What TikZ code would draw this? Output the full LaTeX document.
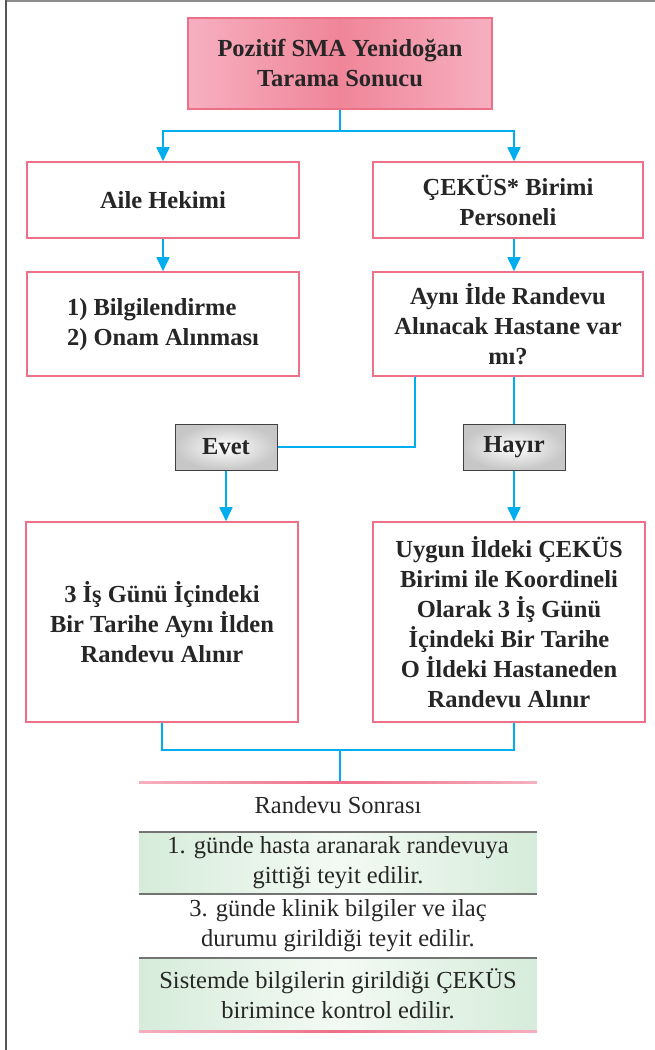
\documentclass[tikz,border=0pt]{standalone}
\usepackage{fontspec}
\setmainfont{Liberation Serif}
\newfontfamily\tnr{Liberation Serif}
\usetikzlibrary{arrows.meta}

\definecolor{pinkline}{HTML}{EE6F88}
\definecolor{pinklight}{HTML}{F6B0C0}
\definecolor{pinkdark}{HTML}{F08599}
\definecolor{cyanline}{HTML}{00AEEF}
\definecolor{greenedge}{HTML}{D6ECDA}
\definecolor{greenmid}{HTML}{F3FAF4}
\definecolor{framegray}{HTML}{555555}

\tikzset{
  txt/.style={font=\tnr\bfseries\fontsize{24.5}{30}\selectfont, align=center, text=black!85},
  pbox/.style={txt, draw=pinkline, line width=1.6pt, fill=white, inner sep=0pt},
  gbox/.style={txt, draw=black!75, line width=1pt, inner color=white, outer color=black!22,
    minimum width=102pt, minimum height=46pt, inner sep=0pt},
  band/.style={font=\tnr\fontsize{24.5}{30}\selectfont, align=center, text=black!85,
    minimum width=398pt, inner sep=0pt},
  conn/.style={draw=cyanline, line width=1.8pt},
  arr/.style={conn, -{Triangle[width=13pt,length=14pt]}},
  sep/.style={draw=black!55, line width=1.6pt}
}

\begin{document}
\begin{tikzpicture}[x=1pt, y=-1pt]
  \useasboundingbox (0,0) rectangle (655,1050);
  \draw[black!45, line width=1.5pt] (6,1) -- (655,1); % top frame
  \draw[framegray, line width=1.8pt] (6,0) -- (6,1050); % left frame

  % top box
  \node[txt, draw=pinkline, line width=1.6pt, left color=pinklight, right color=pinklight,
    middle color=pinkdark, minimum width=304pt, minimum height=91pt, inner sep=0pt]
    (sonuc) at (340,63.5) {Pozitif SMA Yenidoğan\\Tarama Sonucu};

  % two columns
  \node[pbox, minimum width=272pt, minimum height=76pt] (aile) at (163,200) {Aile Hekimi};
  \node[pbox, minimum width=272pt, minimum height=104pt] (bilgi) at (163,324)
    {\begin{tabular}{@{}l@{}}1) Bilgilendirme\\2) Onam Alınması\end{tabular}};
  \node[pbox, minimum width=270pt, minimum height=76pt] (cekus) at (508,200) {ÇEKÜS* Birimi\\Personeli};
  \node[pbox, minimum width=270pt, minimum height=104pt] (ayni) at (508,324)
    {Aynı İlde Randevu\\Alınacak Hastane var\\mı?};

  \node[gbox] (evet) at (226,447) {Evet};
  \node[gbox] (hayir) at (514,447) {Hayır};

  \node[pbox, minimum width=272pt, minimum height=200pt] (randl) at (162,622)
    {3 İş Günü İçindeki\\Bir Tarihe Aynı İlden\\Randevu Alınır};
  \node[pbox, minimum width=272pt, minimum height=200pt] (randr) at (509,622)
    {Uygun İldeki ÇEKÜS\\Birimi ile Koordineli\\Olarak 3 İş Günü\\İçindeki Bir Tarihe\\O İldeki Hastaneden\\Randevu Alınır};

  % connectors
  \coordinate (colR) at (514,0);
  \coordinate (j1) at (340,131);
  \coordinate (j2) at (340,750);
  \draw[conn] (sonuc.south) -- (j1);
  \draw[arr] (j1) -| (aile.north);
  \draw[arr] (j1) -| (cekus.north -| colR);
  \draw[arr] (aile.south) -- (bilgi.north);
  \draw[arr] (cekus.south -| colR) -- (ayni.north -| colR);
  \draw[conn] ([xshift=43pt]ayni.south west) |- (evet.east);
  \draw[conn] (ayni.south -| colR) -- (hayir.north);
  \draw[arr] (evet.south) -- (evet.south |- randl.north);
  \draw[arr] (hayir.south) -- (randr.north -| colR);
  \draw[conn] (randl.south) |- (j2) -| (randr.south -| colR);

  % after appointment
  \shade[left color=pinklight, right color=pinklight, middle color=pinkline]
    (139,781) rectangle (537,783.5);
  \coordinate (j3) at (340,781);
  \draw[conn] (j2) -- (j3);
  \node[band] (sonra) at (338,805) {Randevu Sonrası};

  \node[band, minimum height=62pt, left color=greenedge, right color=greenedge, middle color=greenmid]
    (g1) at (338,863) {1. günde hasta aranarak randevuya\\gittiği teyit edilir.};
  \node[band, minimum height=64pt] (g2) at (338,926) {3. günde klinik bilgiler ve ilaç\\durumu girildiği teyit edilir.};
  \node[band, minimum height=72pt, left color=greenedge, right color=greenedge, middle color=greenmid]
    (g3) at (338,994) {Sistemde bilgilerin girildiği ÇEKÜS\\birimince kontrol edilir.};
  \draw[sep] (g1.north west) -- (g1.north east);
  \draw[sep] (g1.south west) -- (g1.south east);
  \draw[sep] (g2.south west) -- (g2.south east);
  \shade[left color=pinklight, right color=pinklight, middle color=pinkline]
    (g3.south west) rectangle ([yshift=-2.5pt]g3.south east);
\end{tikzpicture}
\end{document}
